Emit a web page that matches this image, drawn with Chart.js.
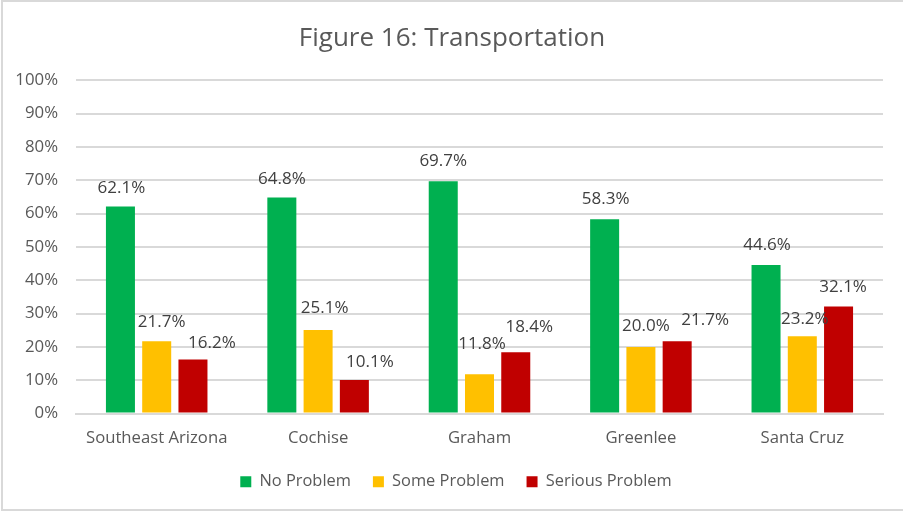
<!DOCTYPE html>
<html>
<head>
<meta charset="utf-8">
<script src="https://cdn.jsdelivr.net/npm/chart.js@4/dist/chart.umd.min.js"></script>
<style>
  html, body { margin: 0; padding: 0; background: #ffffff; }
  #wrap { position: absolute; left: 0; top: 0; width: 903px; height: 512px; overflow: hidden; }
  #frame { position: absolute; left: 1px; top: 0px; width: 910px; height: 511px; border: 2px solid #d9d9d9; box-sizing: border-box; pointer-events: none; }
  canvas { position: absolute; left: 0; top: 0; }
</style>
</head>
<body>
<div id="wrap">
  <canvas id="c" width="903" height="512"></canvas>
  <div id="frame"></div>
</div>
<script>
const categories = ["Southeast Arizona", "Cochise", "Graham", "Greenlee", "Santa Cruz"];
const noProblem = [62.1, 64.8, 69.7, 58.3, 44.6];
const someProblem = [21.7, 25.1, 11.8, 20.0, 23.2];
const seriousProblem = [16.2, 10.1, 18.4, 21.7, 32.1];
const seriesNames = ["No Problem", "Some Problem", "Serious Problem"];
const yTicks = [0, 10, 20, 30, 40, 50, 60, 70, 80, 90, 100];

// hand-placed data label nudges (px) as in the original: [dx, gap above bar]
const labelNudges = [
  [[1, 14], [0, 14], [0, 15], [1, 15.5], [1, 14.5]],
  [[5, 14], [6.5, 17], [2.5, 25], [5, 15.5], [2.5, 12.5]],
  [[19, 12], [15.5, 12.5], [13.5, 20], [28, 16.5], [4.5, 14.5]]
];

const FONT = "'Open Sans', sans-serif";
const TXT = "#595959";

const valueLabels = {
  id: "valueLabels",
  afterDatasetsDraw(chart) {
    const ctx = chart.ctx;
    ctx.save();
    ctx.font = "17px " + FONT;
    ctx.fillStyle = "#404040";
    ctx.textAlign = "center";
    ctx.textBaseline = "alphabetic";
    chart.data.datasets.forEach((ds, di) => {
      const meta = chart.getDatasetMeta(di);
      meta.data.forEach((bar, i) => {
        const n = labelNudges[di][i];
        ctx.fillText(ds.data[i].toFixed(1) + "%", bar.x + n[0], bar.y - n[1]);
      });
    });
    ctx.restore();
  }
};

// Excel centres title and legend over the whole chart frame, a bit right of the plot centre
const shiftBlocks = {
  id: "shiftBlocks",
  afterLayout(chart) {
    if (chart.titleBlock) { chart.titleBlock.left += 10.5; chart.titleBlock.right += 10.5; }
    if (chart.legend) { chart.legend.left += 14.5; chart.legend.right += 14.5; }
  }
};

new Chart(document.getElementById("c"), {
  type: "bar",
  data: {
    labels: categories,
    datasets: [
      { label: seriesNames[0], data: noProblem, backgroundColor: "#00B050" },
      { label: seriesNames[1], data: someProblem, backgroundColor: "#FFC000" },
      { label: seriesNames[2], data: seriousProblem, backgroundColor: "#C00000" }
    ]
  },
  options: {
    responsive: false,
    animation: false,
    devicePixelRatio: 1,
    layout: { padding: { left: 0, right: 20, top: 0, bottom: 12 } },
    datasets: { bar: { barPercentage: 0.8, categoryPercentage: 0.674 } },
    plugins: {
      title: {
        display: true,
        text: "Figure 16: Transportation",
        color: TXT,
        font: { family: FONT, size: 26, weight: "normal" },
        padding: { top: 23, bottom: 26 }
      },
      legend: {
        position: "bottom",
        labels: {
          color: TXT,
          font: { family: FONT, size: 16.4 },
          boxWidth: 11,
          boxHeight: 11,
          padding: 22
        }
      },
      tooltip: { enabled: false }
    },
    scales: {
      x: {
        grid: { display: false },
        border: { display: true, color: "#d9d9d9", width: 2 },
        ticks: { color: TXT, font: { family: FONT, size: 16.7 }, padding: 7 },
        afterFit(scale) { scale.height = 38; }
      },
      y: {
        min: 0, max: 100,
        border: { display: false },
        grid: { color: "#d9d9d9", lineWidth: 2, drawTicks: false },
        afterBuildTicks(scale) { scale.ticks = yTicks.map(v => ({ value: v })); },
        ticks: {
          color: TXT,
          font: { family: FONT, size: 16.8 },
          padding: 18,
          callback: v => v + "%"
        },
        afterFit(scale) { scale.width = 76; }
      }
    }
  },
  plugins: [valueLabels, shiftBlocks]
});
</script>
</body>
</html>
